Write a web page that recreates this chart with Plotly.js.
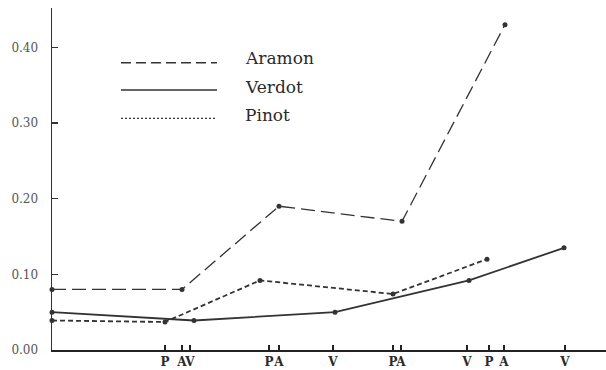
<!DOCTYPE html>
<html>
<head>
<meta charset="utf-8">
<script src="https://cdn.plot.ly/plotly-3.0.1.min.js"></script>
<style>
  html, body { margin: 0; padding: 0; background: #fff; }
  #chart { width: 606px; height: 370px; }
</style>
</head>
<body>
<div id="chart"></div>
<script>
// Sampling positions along the ripening period (arbitrary day scale)
const tickPositions = [113, 130, 138, 217, 227, 281, 341, 349, 415, 437, 452, 513];
const tickLabels    = ['P', 'A', 'V', 'P', 'A', 'V', 'P', 'A', 'V', 'P', 'A', 'V'];

const seriesNames = ['Aramon', 'Verdot', 'Pinot'];

const aramonX = [0, 130, 227, 350, 453];
const aramonY = [0.08, 0.08, 0.19, 0.17, 0.43];

const verdotX = [0, 142, 283, 417, 512];
const verdotY = [0.05, 0.039, 0.05, 0.092, 0.135];

const pinotX = [0, 113, 208, 341, 435];
const pinotY = [0.039, 0.037, 0.092, 0.074, 0.12];

const yTicks = [0, 0.1, 0.2, 0.3, 0.4];
const yTickText = ['0.00', '0.10', '0.20', '0.30', '0.40'];

const ink = '#333333';
const dashStyles = ['14px,6px', 'solid', '5px,3px'];
const lineWidths = [1.3, 1.8, 1.8];

function series(name, xs, ys, i) {
  return {
    type: 'scatter', mode: 'lines+markers', name: name,
    x: xs, y: ys,
    line: { color: ink, width: lineWidths[i], dash: dashStyles[i] },
    marker: { color: ink, size: 5 },
    showlegend: false, cliponaxis: false
  };
}

const traces = [
  series(seriesNames[0], aramonX, aramonY, 0),
  series(seriesNames[1], verdotX, verdotY, 1),
  series(seriesNames[2], pinotX, pinotY, 2)
];

// Hand-drawn key: long line samples with the variety names beside them
const keyLineY = [0.840, 0.760, 0.6775];
const keyTextY = [0.855, 0.770, 0.687];
const keyDash = ['10px,5px', 'solid', '2px,2px'];
const shapes = seriesNames.map((n, i) => ({
  type: 'line', xref: 'paper', yref: 'paper',
  x0: 0.1245, x1: 0.2978, y0: keyLineY[i], y1: keyLineY[i],
  line: { color: ink, width: i === 2 ? 1.2 : 1.5, dash: keyDash[i] }
}));
const annotations = seriesNames.map((n, i) => ({
  text: n, xref: 'paper', yref: 'paper',
  x: 0.3448, y: keyTextY[i], xanchor: 'left', yanchor: 'middle',
  showarrow: false,
  font: { family: 'DejaVu Serif', size: 17, color: '#2a2a2a' }
}));

const layout = {
  width: 606, height: 370,
  margin: { l: 52, r: 0, t: 8, b: 20 },
  paper_bgcolor: '#ffffff', plot_bgcolor: '#ffffff',
  xaxis: {
    range: [0, 554], showgrid: false, zeroline: false,
    showline: true, linecolor: '#222', linewidth: 2,
    tickmode: 'array', tickvals: tickPositions, ticktext: tickLabels,
    tickangle: 0,
    ticks: 'inside', ticklen: 5, tickwidth: 1.2, tickcolor: '#222',
    tickfont: { family: 'DejaVu Serif', size: 12, color: '#2a2a2a', weight: 'bold' }
  },
  yaxis: {
    range: [0, 0.452], showgrid: false, zeroline: false,
    showline: true, linecolor: '#333', linewidth: 1.5,
    tickmode: 'array', tickvals: yTicks, ticktext: yTickText,
    ticks: 'inside', ticklen: 6, tickwidth: 1.2, tickcolor: '#333',
    tickfont: { family: 'DejaVu Serif', size: 12, color: '#555' },
    ticklabelstandoff: 10
  },
  shapes: shapes,
  annotations: annotations
};

Plotly.newPlot('chart', traces, layout, { staticPlot: true, displayModeBar: false });
</script>
</body>
</html>
